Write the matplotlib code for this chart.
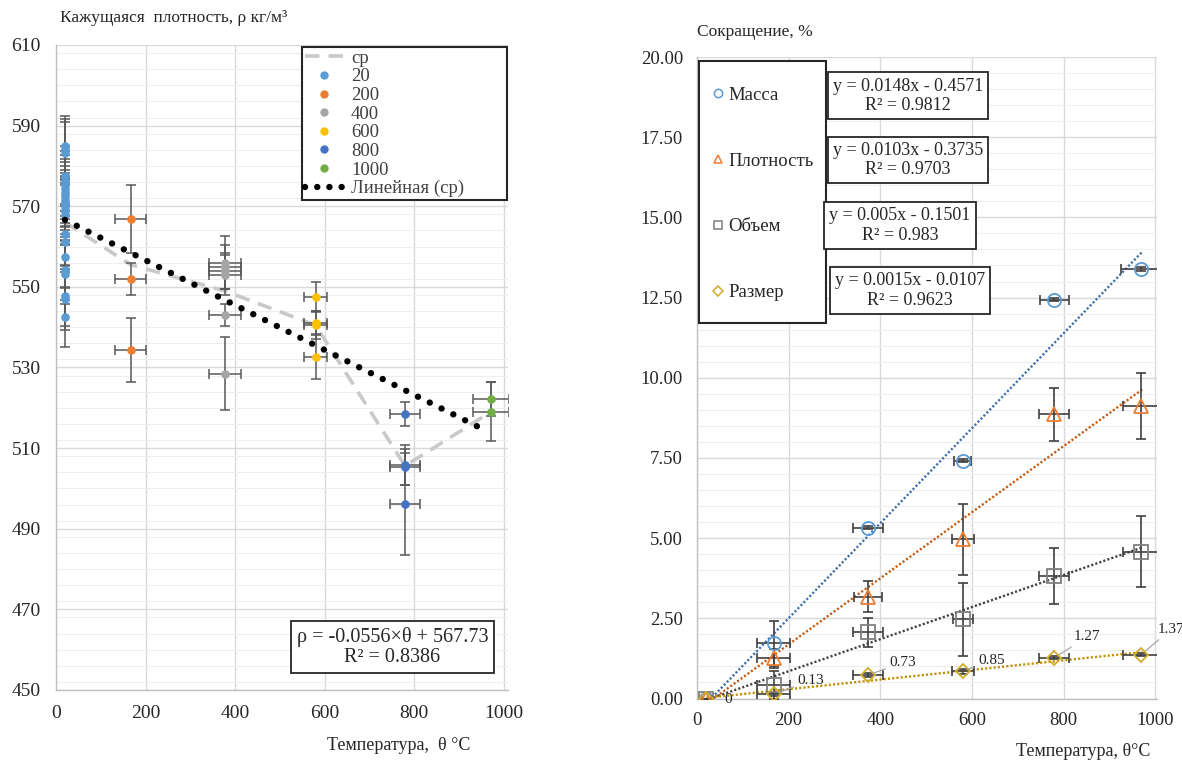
import matplotlib
matplotlib.use("Agg")
import matplotlib.pyplot as plt
from matplotlib.lines import Line2D
from matplotlib.patches import Rectangle
from matplotlib.ticker import MultipleLocator, FixedLocator, FormatStrFormatter

plt.rcParams['font.family'] = ['Liberation Serif', 'DejaVu Serif']

# ---------------- left panel: apparent density ----------------
group_names = ['20', '200', '400', '600', '800', '1000']
group_colors = ['#5B9BD5', '#ED7D31', '#A5A5A5', '#FFC000', '#4472C4', '#70AD47']

theta_20 = 20
rho_20 = [585.0, 584.2, 583.3, 577.5, 576.3, 575.2, 574.3, 573.4, 572.5, 571.6, 570.7,
          569.8, 568.9, 567.8, 563.0, 561.2, 557.3, 554.2, 553.2, 547.8, 546.9, 542.5]
rho_20_err = [7.5] * len(rho_20)
theta_20_err = 0

theta_200 = 167
rho_200 = [566.8, 551.9, 534.3]
rho_200_err = [8.5, 3.9, 8.0]
theta_200_err = 35

theta_400 = 377
rho_400 = [556.0, 555.0, 554.0, 553.0, 543.0, 528.5]
rho_400_err = [6.6, 5.5, 4.5, 5.0, 2.8, 9.0]
theta_400_err = 36

theta_600 = 580
rho_600 = [547.5, 541.0, 540.5, 532.7]
rho_600_err = [3.8, 3.0, 3.5, 5.6]
theta_600_err = 25

theta_800 = 780
rho_800 = [518.4, 505.8, 505.4, 496.1]
rho_800_err = [3.0, 5.0, 4.5, 12.7]
theta_800_err = 33

theta_1000 = 972
rho_1000 = [522.1, 519.0]
rho_1000_err = [4.2, 7.3]
theta_1000_err = 41

# group means ("ср")
theta_mean = [20, 167, 377, 580, 780, 972]
rho_mean = [566.0, 555.5, 549.0, 540.5, 505.6, 519.0]

# linear fit of the means
fit_slope = -0.0556
fit_intercept = 567.73
fit_r2 = 0.8386
fit_range = [20, 955]

rho_ticks = [450, 470, 490, 510, 530, 550, 570, 590, 610]

# ---------------- right panel: shrinkage ----------------
theta_r = [20, 168, 373, 580, 780, 970]

massa = [0.0, 1.72, 5.33, 7.41, 12.43, 13.39]
massa_yerr = [0.0, 0.70, 0.05, 0.05, 0.05, 0.05]
massa_xerr = [10, 36, 32, 19, 31, 45]

plotn = [0.0, 1.25, 3.18, 4.96, 8.86, 9.12]
plotn_yerr = [0.0, 0.30, 0.48, 1.10, 0.83, 1.04]
plotn_xerr = [10, 36, 31, 24, 33, 40]

obem = [0.0, 0.42, 2.06, 2.47, 3.82, 4.58]
obem_yerr = [0.0, 0.45, 0.45, 1.13, 0.86, 1.10]
obem_xerr = [10, 36, 32, 22, 33, 40]

razmer = [0.0, 0.13, 0.73, 0.85, 1.27, 1.37]
razmer_yerr = [0.0, 0.05, 0.05, 0.08, 0.05, 0.06]
razmer_xerr = [10, 36, 32, 24, 33, 40]

series_names = ['Масса', 'Плотность', 'Объем', 'Размер']
series_markers = ['o', '^', 's', 'D']
series_colors = ['#5B9BD5', '#ED7D31', '#7F7F7F', '#D4AC2B']
trend_colors = ['#3F6FA8', '#C55A11', '#404040', '#BF9000']
trend_slope = [0.0148, 0.0103, 0.005, 0.0015]
trend_intercept = [-0.4571, -0.3735, -0.1501, -0.0107]
trend_r2 = ['0.9812', '0.9703', '0.983', '0.9623']
trend_range = [20, 972]

W, H = 1182, 762
fig = plt.figure(figsize=(W / 100, H / 100), dpi=100)


def px_axes(l, t, r, b):
    return fig.add_axes([l / W, 1 - b / H, (r - l) / W, (b - t) / H])


def style_axes(ax, tick_size, xpad, ypad):
    for side in ('top', 'right'):
        ax.spines[side].set_visible(False)
    for side in ('left', 'bottom'):
        ax.spines[side].set_color('#BFBFBF')
        ax.spines[side].set_linewidth(1.0)
    ax.tick_params(which='both', length=0, labelsize=tick_size, colors='#262626')
    ax.tick_params(axis='x', pad=xpad)
    ax.tick_params(axis='y', pad=ypad)
    ax.grid(which='major', color='#D9D9D9', linewidth=1.0)
    ax.grid(which='minor', axis='y', color='#EEEEEE', linewidth=0.8)
    ax.set_axisbelow(True)


# ======== left ========
axL = px_axes(56, 45, 508, 690)
style_axes(axL, 14, 11, 11)
axL.set_xlim(0, 1010)
axL.set_ylim(450, 610)
axL.xaxis.set_major_locator(MultipleLocator(200))
axL.yaxis.set_major_locator(FixedLocator(rho_ticks))
axL.yaxis.set_minor_locator(MultipleLocator(4))

axL.plot(theta_mean, rho_mean, color='#C9C9C9', linewidth=2.6, dashes=(4, 2.5), zorder=2)

groups = [
    (theta_20, rho_20, rho_20_err, theta_20_err),
    (theta_200, rho_200, rho_200_err, theta_200_err),
    (theta_400, rho_400, rho_400_err, theta_400_err),
    (theta_600, rho_600, rho_600_err, theta_600_err),
    (theta_800, rho_800, rho_800_err, theta_800_err),
    (theta_1000, rho_1000, rho_1000_err, theta_1000_err),
]
for (t, rho, rerr, terr), col in zip(groups, group_colors):
    tt = [t] * len(rho)
    axL.errorbar(tt, rho, yerr=rerr, xerr=terr if terr else None, fmt='none',
                 ecolor='#595959', elinewidth=1.1, capsize=3.5, capthick=1.1, zorder=3)
    axL.plot(tt, rho, 'o', color=col, markersize=6.2, markeredgewidth=0, zorder=4)

fx = fit_range
fy = [fit_slope * v + fit_intercept for v in fx]
axL.plot(fx, fy, color='black', linewidth=4.6, linestyle=(0, (0.01, 2.05)),
         dash_capstyle='round', zorder=5)

handlesL = [Line2D([], [], color='#C9C9C9', linewidth=2.6, dashes=(4, 2.5))]
for col in group_colors:
    handlesL.append(Line2D([], [], linestyle='none', marker='o', color=col,
                           markersize=6, markeredgewidth=0))
handlesL.append(Line2D([], [], color='black', linewidth=4.6,
                       linestyle=(0, (0.01, 1.9)), dash_capstyle='round'))
labelsL = ['ср'] + group_names + ['Линейная (ср)']
legL = axL.legend(handlesL, labelsL, loc='upper left', bbox_to_anchor=(0.545, 0.997, 0.452, 0.0),
                  mode='expand', fontsize=13.5, labelspacing=0.08, handlelength=2.0,
                  handletextpad=0.45, borderpad=0.15, borderaxespad=0, fancybox=False,
                  framealpha=1, edgecolor='#262626')
legL.get_frame().set_linewidth(1.5)
for txt in legL.get_texts():
    txt.set_color('#404040')

axL.text(752, 460.6,
         f'ρ = {fit_slope}×θ + {fit_intercept}\nR² = {fit_r2}',
         ha='center', va='center', fontsize=14.5, linespacing=1.05, color='#262626',
         bbox=dict(boxstyle='square,pad=0.3', facecolor='white', edgecolor='#262626',
                   linewidth=1.3), zorder=6)

fig.text(60 / W, 1 - 18 / H, 'Кажущаяся  плотность, ρ кг/м³', fontsize=12.5,
         ha='left', va='center', color='#262626')
fig.text(470 / W, 1 - 745 / H, 'Температура,  θ °C', fontsize=13,
         ha='right', va='center', color='#262626')

# ======== right ========
axR = px_axes(697, 57, 1157, 698.5)
style_axes(axR, 13.5, 10, 10)
axR.set_xlim(0, 1004)
axR.set_ylim(0, 20)
axR.xaxis.set_major_locator(MultipleLocator(200))
axR.yaxis.set_major_locator(MultipleLocator(2.5))
axR.yaxis.set_minor_locator(MultipleLocator(0.5))
axR.yaxis.set_major_formatter(FormatStrFormatter('%.2f'))

series = [
    (massa, massa_yerr, massa_xerr),
    (plotn, plotn_yerr, plotn_xerr),
    (obem, obem_yerr, obem_xerr),
    (razmer, razmer_yerr, razmer_xerr),
]
for i, (vals, yerr, xerr) in enumerate(series):
    axR.errorbar(theta_r, vals, yerr=yerr, xerr=xerr, fmt='none', ecolor='#404040',
                 elinewidth=1.2, capsize=3.5, capthick=1.2, zorder=3)
    axR.plot(theta_r, vals, linestyle='none', marker=series_markers[i],
             markersize=9.5 if series_markers[i] != 'D' else 7.5, markerfacecolor='none',
             markeredgecolor=series_colors[i], markeredgewidth=1.3, zorder=4)
    tx = trend_range
    ty = [trend_slope[i] * v + trend_intercept[i] for v in tx]
    axR.plot(tx, ty, color=trend_colors[i], linewidth=1.7, linestyle=(0, (0.9, 0.9)),
             zorder=2)

# value labels for "Размер"
label_offsets = [(13, -1), (17, 10), (15.5, 9), (11, 8), (14, 15), (11.5, 18)]
for t, v, (dx, dy) in zip(theta_r, razmer, label_offsets):
    txt = f'{v:g}' if v == 0 else f'{v:.2f}'
    arrow = None if v == 0 else dict(arrowstyle='-', color='#A6A6A6', linewidth=0.9,
                                     shrinkA=1, shrinkB=4)
    axR.annotate(txt, xy=(t, v), xytext=(dx, dy), textcoords='offset points',
                 ha='left', va='center', fontsize=11, color='#262626',
                 arrowprops=arrow, annotation_clip=False, zorder=6)

# legend frame drawn as its own box, entries placed inside it
axR.add_patch(Rectangle((0.0043, 0.5853), 0.276, 0.4089, transform=axR.transAxes,
                        facecolor='white', edgecolor='#262626', linewidth=1.5, zorder=6))
handlesR = [Line2D([], [], linestyle='none', marker=m, markerfacecolor='none',
                   markeredgecolor=c, markeredgewidth=1.1, markersize=6 if m != 'D' else 5)
            for m, c in zip(series_markers, series_colors)]
legR = axR.legend(handlesR, series_names, loc='upper left', bbox_to_anchor=(0.0335, 0.954),
                  fontsize=13.5, labelspacing=2.6, handlelength=0.6,
                  handletextpad=0.23, borderpad=0.0, borderaxespad=0, frameon=False)
legR.set_zorder(7)
for txt in legR.get_texts():
    txt.set_color('#262626')

box_centers = [(461, 18.79), (461, 16.79), (443, 14.75), (465, 12.72)]
for i, (bx, by) in enumerate(box_centers):
    s = f'{trend_slope[i]}'
    c = abs(trend_intercept[i])
    axR.text(bx, by, f'y = {s}x - {c}\nR² = {trend_r2[i]}', ha='center', va='center',
             fontsize=13, linespacing=1.2, color='#262626',
             bbox=dict(boxstyle='square,pad=0.28', facecolor='white', edgecolor='#262626',
                       linewidth=1.3), zorder=8)

fig.text(697 / W, 1 - 32 / H, 'Сокращение, %', fontsize=12.5, ha='left', va='center',
         color='#262626')
fig.text(1150 / W, 1 - 752 / H, 'Температура, θ°C', fontsize=13, ha='right', va='center',
         color='#262626')

fig.savefig('out.png', dpi=100)
